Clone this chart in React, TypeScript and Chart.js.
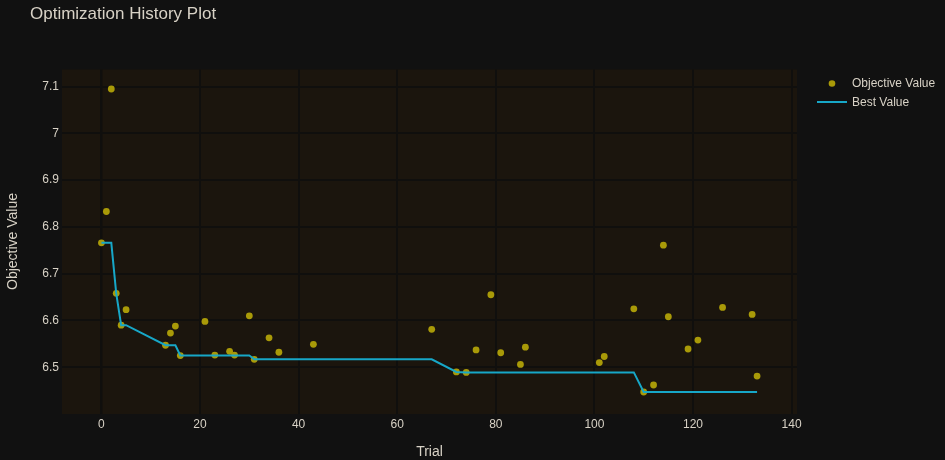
import React, { useEffect, useRef } from 'react';
import { Chart, registerables } from 'chart.js';

Chart.register(...registerables);

// ---- data ----
const trials = [0, 1, 2, 3, 4, 5, 13, 14, 15, 16, 21, 23, 26, 27, 30, 31, 34, 36, 43, 67, 72, 74, 76, 79, 81, 85, 86, 101, 102, 108, 110, 112, 114, 115, 119, 121, 126, 132, 133];
const objectiveValues = [6.766, 6.833, 7.095, 6.658, 6.59, 6.623, 6.547, 6.573, 6.588, 6.525, 6.598, 6.526, 6.534, 6.526, 6.61, 6.517, 6.563, 6.532, 6.549, 6.581, 6.49, 6.489, 6.537, 6.655, 6.531, 6.506, 6.543, 6.51, 6.523, 6.625, 6.447, 6.462, 6.761, 6.608, 6.539, 6.558, 6.628, 6.613, 6.481];
const bestValues = [6.766, 6.766, 6.766, 6.658, 6.59, 6.59, 6.547, 6.547, 6.547, 6.525, 6.525, 6.525, 6.525, 6.525, 6.525, 6.517, 6.517, 6.517, 6.517, 6.517, 6.49, 6.489, 6.489, 6.489, 6.489, 6.489, 6.489, 6.489, 6.489, 6.489, 6.447, 6.447, 6.447, 6.447, 6.447, 6.447, 6.447, 6.447, 6.447];
const xTickValues = [0, 20, 40, 60, 80, 100, 120, 140];
const yTickValues = [6.5, 6.6, 6.7, 6.8, 6.9, 7.0, 7.1];
const yTickLabels = ['6.5', '6.6', '6.7', '6.8', '6.9', '7', '7.1'];
const titleText = 'Optimization History Plot';
const xTitle = 'Trial';
const yTitle = 'Objective Value';
const seriesNames = ['Objective Value', 'Best Value'];

const FONT = "'Liberation Sans', Arial, sans-serif";
const PAGE_BG = '#111111';
const PLOT_BG = '#1b150d';
const GRID = '#100f0d';
const TEXT = '#d8d2c6';
const MARKER = '#a99a08';
const LINE = '#17a7c7';

export default function App() {
  const ref = useRef<HTMLCanvasElement | null>(null);

  useEffect(() => {
    document.body.style.margin = '0';
    document.body.style.background = PAGE_BG;
    const canvas = ref.current;
    if (!canvas) return;

    const bgPlugin = {
      id: 'bgPlugin',
      beforeDraw(chart: any) {
        const { ctx, chartArea } = chart;
        ctx.save();
        ctx.fillStyle = PAGE_BG;
        ctx.fillRect(0, 0, chart.width, chart.height);
        ctx.fillStyle = PLOT_BG;
        ctx.fillRect(chartArea.left, chartArea.top, chartArea.right - chartArea.left, chartArea.bottom - chartArea.top);
        ctx.restore();
      },
      afterDraw(chart: any) {
        const { ctx, chartArea } = chart;
        ctx.save();
        ctx.fillStyle = TEXT;
        ctx.textBaseline = 'alphabetic';
        ctx.textAlign = 'left';
        ctx.font = `17px ${FONT}`;
        ctx.fillText(titleText, 30, 19);

        ctx.font = `14px ${FONT}`;
        ctx.textAlign = 'center';
        ctx.fillText(xTitle, (chartArea.left + chartArea.right) / 2, 456);

        ctx.save();
        ctx.translate(17, 241.5);
        ctx.rotate(-Math.PI / 2);
        ctx.fillText(yTitle, 0, 0);
        ctx.restore();

        // legend
        ctx.font = `12px ${FONT}`;
        ctx.textAlign = 'left';
        ctx.textBaseline = 'middle';
        ctx.fillStyle = MARKER;
        ctx.beginPath();
        ctx.arc(832, 83.5, 3.3, 0, Math.PI * 2);
        ctx.fill();
        ctx.fillStyle = TEXT;
        ctx.fillText(seriesNames[0], 852, 83.5);
        ctx.strokeStyle = LINE;
        ctx.lineWidth = 2;
        ctx.beginPath();
        ctx.moveTo(817, 102);
        ctx.lineTo(847, 102);
        ctx.stroke();
        ctx.fillText(seriesNames[1], 852, 102.5);
        ctx.restore();
      },
    };

    const chart = new Chart(canvas, {
      type: 'scatter',
      data: {
        datasets: [
          {
            type: 'line',
            label: seriesNames[1],
            data: trials.map((t, i) => ({ x: t, y: bestValues[i] })),
            borderColor: LINE,
            borderWidth: 2,
            pointRadius: 0,
            tension: 0,
            fill: false,
            order: 0,
          } as any,
          {
            type: 'scatter',
            label: seriesNames[0],
            data: trials.map((t, i) => ({ x: t, y: objectiveValues[i] })),
            backgroundColor: MARKER,
            borderWidth: 0,
            pointRadius: 3.4,
            order: 1,
          },
        ],
      },
      options: {
        animation: false,
        responsive: false,
        devicePixelRatio: 1,
        events: [],
        layout: { padding: { top: 69.5, right: 148, bottom: 0, left: 0 } },
        plugins: {
          legend: { display: false },
          title: { display: false },
          tooltip: { enabled: false },
        },
        scales: {
          x: {
            type: 'linear',
            min: -8,
            max: 141.1,
            afterBuildTicks: (s: any) => {
              s.ticks = xTickValues.map((v) => ({ value: v }));
            },
            afterFit: (s: any) => {
              s.height = 46;
            },
            grid: {
              color: GRID,
              lineWidth: (c: any) => (c.tick && c.tick.value === 0 ? 2.5 : 2),
              drawTicks: false,
            },
            border: { display: false },
            ticks: {
              color: TEXT,
              font: { size: 12, family: FONT },
              padding: 3,
              maxRotation: 0,
              autoSkip: false,
              callback: (v: any) => String(v),
            },
          },
          y: {
            type: 'linear',
            min: 6.4,
            max: 7.1367,
            afterBuildTicks: (s: any) => {
              s.ticks = yTickValues.map((v) => ({ value: v }));
            },
            afterFit: (s: any) => {
              s.width = 62;
            },
            grid: { color: GRID, lineWidth: 2, drawTicks: false },
            border: { display: false },
            ticks: {
              color: TEXT,
              font: { size: 12, family: FONT },
              padding: 3,
              autoSkip: false,
              callback: (v: any) => {
                const i = yTickValues.findIndex((t) => Math.abs(t - Number(v)) < 1e-6);
                return i >= 0 ? yTickLabels[i] : '';
              },
            },
          },
        },
      },
      plugins: [bgPlugin],
    });

    return () => chart.destroy();
  }, []);

  return (
    <div style={{ position: 'fixed', left: 0, top: 0, width: 945, height: 460, background: PAGE_BG }}>
      <canvas ref={ref} width={945} height={460} style={{ width: 945, height: 460, display: 'block' }} />
    </div>
  );
}
